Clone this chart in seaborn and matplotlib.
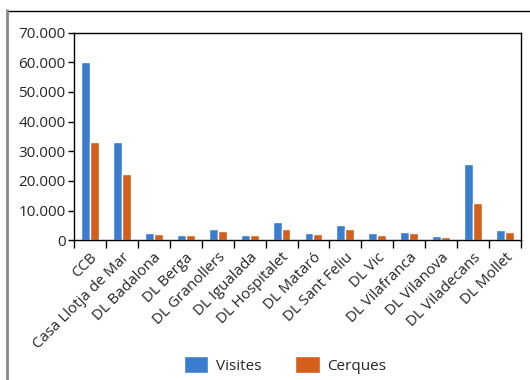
import matplotlib
matplotlib.use("Agg")
import matplotlib.pyplot as plt
from matplotlib.lines import Line2D
from matplotlib.ticker import FuncFormatter, FixedLocator
import seaborn as sns
import pandas as pd
import numpy as np

categories = ["CCB", "Casa Llotja de Mar", "DL Badalona", "DL Berga", "DL Granollers",
              "DL Igualada", "DL Hospitalet", "DL Mataró", "DL Sant Feliu", "DL Vic",
              "DL Vilafranca", "DL Vilanova", "DL Viladecans", "DL Mollet"]
visites = [59900, 33100, 2450, 1800, 3800, 1800, 6200, 2450, 5150, 2450, 2800, 1450, 25800, 3500]
cerques = [33100, 22400, 2150, 1800, 3150, 1800, 3800, 2150, 3800, 1800, 2450, 1100, 12600, 2800]
series_names = ["Visites", "Cerques"]
colors = ["#3A7DCE", "#D35F1A"]

df = pd.DataFrame({
    "cat": categories * 2,
    "val": visites + cerques,
    "serie": [series_names[0]] * len(categories) + [series_names[1]] * len(categories),
})

sns.set_style("white")
plt.rcParams["font.family"] = ["Open Sans", "DejaVu Sans"]

fig = plt.figure(figsize=(5.3, 3.8), dpi=100)
ax = fig.add_axes([74/530, 1 - 240.3/380, (521-74)/530, (240.3-32.5)/380])

sns.barplot(data=df, x="cat", y="val", hue="serie", palette=colors, width=0.56,
            saturation=1, ax=ax, legend=True, errorbar=None)

ax.set_ylim(0, 70000)
ax.set_xlim(-0.5, len(categories) - 0.5)
ax.set_yticks(np.arange(0, 70001, 10000))
ax.yaxis.set_major_formatter(FuncFormatter(lambda v, p: f"{int(v):,}".replace(",", ".")))
ax.set_xlabel("")
ax.set_ylabel("")

for s in ax.spines.values():
    s.set_color("black")
    s.set_linewidth(1)

ax.tick_params(axis="y", which="major", direction="out", length=4, width=1, color="black",
               labelsize=11, pad=2, left=True)
ax.set_xticks(range(len(categories)))
ax.set_xticklabels(categories, rotation=45, ha="right", rotation_mode="anchor", fontsize=10.8)
ax.tick_params(axis="x", which="major", length=0, pad=7)
ax.xaxis.set_minor_locator(FixedLocator(np.arange(-0.5, len(categories), 1.0)))
ax.tick_params(axis="x", which="minor", direction="out", length=6, width=1, color="black", bottom=True)

leg = ax.legend(loc="center", bbox_to_anchor=(285/530, 1 - 365/380), bbox_transform=fig.transFigure,
                ncol=2, frameon=False, fontsize=11, handlelength=1.6, handleheight=1.35,
                columnspacing=2.2, handletextpad=0.5)

fig.add_artist(Line2D([7/530, 1], [1 - 10.5/380, 1 - 10.5/380], color="black", lw=1))
fig.add_artist(Line2D([7/530, 7/530], [0, 1 - 10/380], color="#888888", lw=2))

fig.savefig("out.png", dpi=100)
